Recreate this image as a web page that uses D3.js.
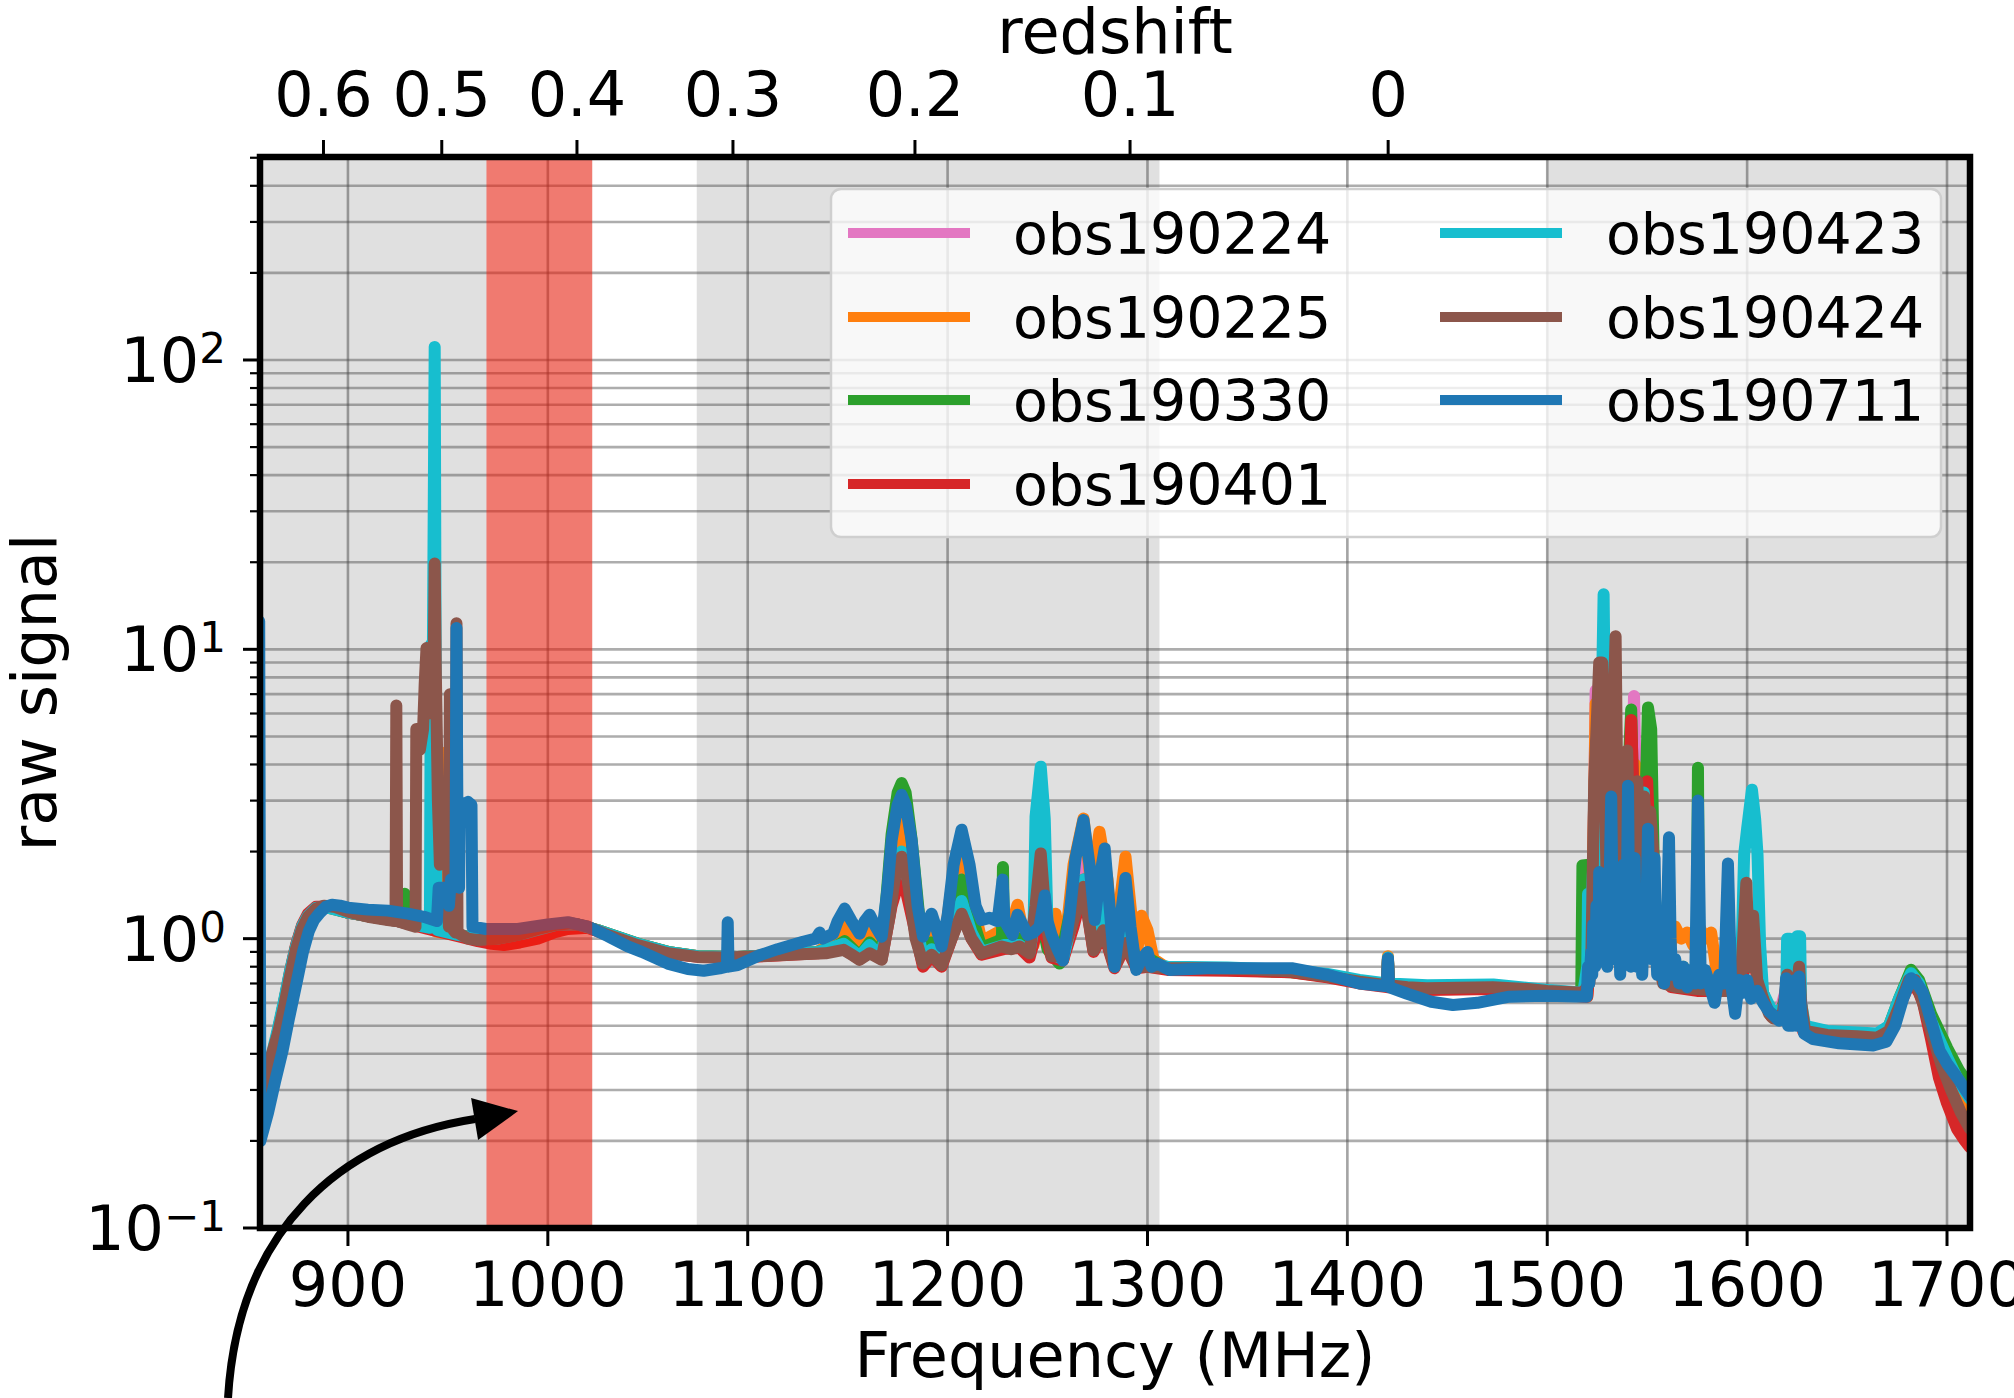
<!DOCTYPE html>
<html><head><meta charset="utf-8">
<script src="https://cdn.jsdelivr.net/npm/d3@7"></script>
<style>
body{margin:0;background:#fff}
svg{display:block}
text{font-family:"DejaVu Sans",sans-serif;fill:#000}
</style>
</head><body>
<svg id="chart" width="2014" height="1398"></svg>
<script>
// ---------------- DATA ----------------
const seriesNames  = ["obs190224","obs190225","obs190330","obs190401","obs190423","obs190424","obs190711"];
const seriesColors = ["#e377c2","#ff7f0e","#2ca02c","#d62728","#17becf","#8c564b","#1f77b4"];

const obs190224 = [[856,0.26],[859,0.31],[862,0.38],[865,0.47],[868,0.59],[871,0.75],[874,0.93],[877,1.09],[880,1.2],[884,1.28],[890,1.29],[900,1.23],[912,1.19],[925,1.15],[940,1.09],[955,1.03],[965,1.0],[975,1.0],[990,1.05],[1005,1.12],[1015,1.12],[1025,1.07],[1045,0.96],[1060,0.9],[1075,0.87],[1095,0.865],[1115,0.88],[1135,0.9],[1148,1.0],[1156,0.87],[1161,0.95],[1167,0.86],[1172,1.6],[1177,2.3],[1182,1.5],[1187.7,0.85],[1192,0.95],[1197,0.83],[1202,1.2],[1207,1.9],[1212,1.2],[1217,0.92],[1228,1.0],[1231,0.95],[1233.7,1.1],[1236,0.95],[1241,0.9],[1246.6,1.6],[1252,0.9],[1257.7,0.85],[1263,1.4],[1268,2.1],[1273,1.0],[1278,1.5],[1283.5,0.8],[1289,1.2],[1294.4,0.8],[1300,0.85],[1310,0.79],[1340,0.79],[1372,0.775],[1390,0.745],[1406,0.71],[1419.8,0.69],[1420.3,0.86],[1420.8,0.69],[1440,0.68],[1473,0.685],[1500,0.65],[1520,0.64],[1522,1.0],[1523.5,3],[1524.2,7.2],[1525,3],[1527,1.2],[1530,4],[1531.5,1.0],[1535,2.5],[1537,1.0],[1540,3.5],[1541.5,1.2],[1543.4,6.9],[1545,2],[1547,2.8],[1549,1.2],[1552,2.5],[1555,0.8],[1560,0.7],[1575,0.68],[1590,0.68],[1600,0.8],[1603,0.9],[1606,0.7],[1612,0.55],[1616,0.55],[1619,0.65],[1621,0.75],[1623,0.55],[1626,0.75],[1628,0.5],[1640,0.47],[1665,0.46],[1671,0.49],[1676,0.6],[1682,0.75],[1686,0.7],[1692,0.52],[1700,0.38],[1706,0.31],[1711.5,0.27]];

const obs190225 = [[856,0.25],[859,0.3],[862,0.37],[865,0.46],[868,0.58],[871,0.74],[874,0.92],[877,1.08],[880,1.2],[884,1.28],[890,1.29],[900,1.23],[912,1.19],[925,1.15],[940,1.09],[944,1.06],[946.4,1.05],[946.7,4.4],[947,1.05],[955,1.03],[965,1.0],[975,1.0],[990,1.05],[1005,1.12],[1015,1.12],[1025,1.07],[1045,0.96],[1060,0.9],[1075,0.87],[1095,0.865],[1115,0.88],[1135,0.9],[1143,0.98],[1148.5,1.15],[1152,1.0],[1156,0.9],[1161,1.1],[1167,0.9],[1172,1.8],[1177,2.5],[1182,1.6],[1187.7,0.9],[1192,1.1],[1197,0.85],[1202,1.5],[1207,2.2],[1212,1.4],[1217,0.98],[1225,1.05],[1230,1.0],[1235,1.31],[1239,0.95],[1243,0.95],[1246.6,1.3],[1250,1.0],[1254,1.22],[1258,0.85],[1263,1.8],[1268,2.6],[1272,1.5],[1276,2.34],[1280,1.6],[1283.5,0.85],[1286,1.3],[1289,1.92],[1292,1.2],[1294.4,0.85],[1297,1.2],[1300,1.07],[1303,0.85],[1310,0.79],[1340,0.785],[1372,0.77],[1390,0.74],[1406,0.705],[1419.8,0.685],[1420.3,0.87],[1420.8,0.685],[1440,0.67],[1473,0.67],[1500,0.645],[1520,0.63],[1522,1.0],[1523.5,3],[1524.2,6.5],[1525,2.5],[1527,1.2],[1530,3.5],[1531.5,1.0],[1535,2.2],[1537,1.0],[1540,3],[1541.5,1.2],[1544,4],[1545.5,1.5],[1548,2.5],[1550,1.2],[1552,2],[1555,0.9],[1560,0.85],[1564,1.1],[1567,1.0],[1570,1.05],[1573,0.95],[1576,1.1],[1579,1.0],[1582,1.05],[1585,0.75],[1592,0.7],[1600,0.85],[1603,0.95],[1606,0.7],[1612,0.55],[1616,0.54],[1619,0.6],[1621,0.7],[1623,0.55],[1626,0.7],[1628,0.5],[1640,0.465],[1665,0.455],[1671,0.48],[1676,0.6],[1682,0.75],[1686,0.7],[1692,0.5],[1700,0.36],[1706,0.29],[1711.5,0.25]];

const obs190330 = [[856,0.27],[859,0.32],[862,0.39],[865,0.48],[868,0.6],[871,0.76],[874,0.94],[877,1.1],[880,1.2],[884,1.28],[890,1.28],[900,1.23],[912,1.19],[925,1.16],[928,1.15],[928.4,1.43],[928.8,1.15],[940,1.09],[955,1.03],[965,1.0],[975,1.0],[990,1.05],[1005,1.12],[1015,1.12],[1025,1.07],[1045,0.96],[1060,0.9],[1075,0.87],[1095,0.865],[1115,0.88],[1135,0.9],[1143,0.93],[1148.5,0.98],[1152,0.93],[1156,0.87],[1161,0.97],[1167,0.87],[1172,2.3],[1175,3.2],[1177,3.45],[1179,3.2],[1182,2.2],[1187.7,0.88],[1192,0.97],[1197,0.84],[1202,1.2],[1207,1.6],[1212,1.2],[1217,0.93],[1225,0.98],[1227.2,1.0],[1227.7,1.77],[1228.2,1.0],[1232,0.95],[1236,1.0],[1241,0.88],[1246.6,1.2],[1250,0.92],[1256,0.82],[1262,1.3],[1268,1.6],[1273,1.0],[1278,1.4],[1283.5,0.82],[1289,1.2],[1294.4,0.82],[1300,0.86],[1310,0.785],[1340,0.78],[1372,0.765],[1390,0.74],[1406,0.705],[1419.8,0.685],[1420.3,0.85],[1420.8,0.685],[1440,0.675],[1473,0.68],[1500,0.65],[1517,0.64],[1517.6,1.79],[1521,1.8],[1521.6,0.9],[1524,2.5],[1526,1.3],[1528,4],[1530,1.3],[1532.4,7.2],[1534,2],[1536,3],[1538,1.3],[1540,3],[1542,6.2],[1543.5,2],[1546,3],[1548,1.5],[1550.4,6.3],[1552,5.3],[1553.5,1.5],[1556,0.85],[1562,0.72],[1568,0.8],[1572,0.72],[1574.8,0.75],[1575.4,3.9],[1576,0.75],[1585,0.7],[1592,0.68],[1600,0.8],[1603,0.9],[1606,0.7],[1612,0.55],[1616,0.54],[1619,0.62],[1621,0.7],[1623,0.55],[1626,0.7],[1628,0.5],[1640,0.47],[1665,0.46],[1671,0.5],[1676,0.62],[1682,0.78],[1686,0.72],[1692,0.55],[1700,0.42],[1706,0.35],[1711.5,0.31]];

const obs190401 = [[856,0.26],[859,0.31],[862,0.38],[865,0.48],[868,0.6],[871,0.77],[874,0.95],[877,1.11],[880,1.22],[884,1.29],[890,1.29],[900,1.23],[912,1.19],[925,1.15],[940,1.08],[955,1.02],[965,0.98],[972,0.96],[978,0.95],[986,0.97],[995,1.0],[1003,1.05],[1010,1.08],[1020,1.09],[1030,1.03],[1045,0.95],[1060,0.89],[1075,0.865],[1095,0.86],[1115,0.875],[1135,0.89],[1148,0.92],[1156,0.85],[1161,0.9],[1167,0.85],[1172,1.3],[1177,1.7],[1182,1.2],[1187.7,0.8],[1192,0.87],[1197,0.8],[1202,1.0],[1207,1.25],[1212,1.0],[1217,0.88],[1228,0.92],[1236,0.93],[1241,0.86],[1246.6,1.2],[1252,0.86],[1257.7,0.84],[1263,1.1],[1268,1.5],[1273,0.9],[1278,1.05],[1283.5,0.79],[1289,0.95],[1294.4,0.79],[1300,0.8],[1310,0.78],[1340,0.775],[1372,0.765],[1390,0.735],[1406,0.7],[1419.8,0.68],[1420.3,0.84],[1420.8,0.68],[1440,0.665],[1473,0.67],[1500,0.645],[1520,0.63],[1522,0.9],[1524,2.5],[1526,1.2],[1528,3.5],[1530,1.2],[1532,4],[1534,1.5],[1537,3],[1539,1.2],[1542,5.7],[1544,2],[1546,3],[1548,1.3],[1550,3.5],[1552,1.5],[1555,0.8],[1562,0.68],[1575,0.66],[1590,0.66],[1598,0.75],[1600,1.0],[1601,1.29],[1602.5,0.9],[1606,0.68],[1612,0.54],[1616,0.53],[1619,0.6],[1621,0.68],[1623,0.53],[1626,0.68],[1628,0.48],[1640,0.46],[1665,0.45],[1671,0.47],[1676,0.58],[1682,0.72],[1686,0.65],[1688,0.6],[1692,0.45],[1696,0.33],[1700,0.27],[1705,0.22],[1709,0.2],[1711.5,0.19]];

const obs190423 = [[856,0.3],[859,0.34],[862,0.4],[865,0.49],[868,0.61],[871,0.77],[874,0.94],[877,1.1],[880,1.2],[884,1.28],[890,1.28],[900,1.23],[912,1.19],[925,1.15],[938,1.1],[941,1.09],[941.5,10.4],[942.5,10],[943.4,111],[944.2,1.5],[945,1.07],[955,1.03],[965,1.0],[975,1.0],[990,1.05],[1005,1.12],[1015,1.12],[1025,1.07],[1045,0.96],[1060,0.9],[1075,0.87],[1095,0.865],[1115,0.88],[1135,0.9],[1148,0.96],[1156,0.87],[1161,0.95],[1167,0.86],[1172,1.5],[1177,2.0],[1182,1.4],[1187.7,0.85],[1192,0.92],[1197,0.83],[1202,1.1],[1207,1.35],[1212,1.05],[1217,0.9],[1228,0.95],[1236,0.95],[1241,0.9],[1243,1.1],[1244,2.64],[1246.6,3.93],[1248.6,2.6],[1250,1.1],[1253,0.88],[1257.7,0.85],[1263,1.2],[1268,1.6],[1273,0.95],[1278,1.3],[1283.5,0.8],[1289,1.15],[1294.4,0.8],[1300,0.82],[1310,0.8],[1340,0.795],[1372,0.78],[1390,0.755],[1406,0.72],[1419.8,0.7],[1420.3,0.86],[1420.8,0.7],[1440,0.69],[1473,0.695],[1500,0.665],[1518,0.65],[1520,0.8],[1520.4,1.43],[1521,0.9],[1524,2.5],[1526,1.2],[1527.5,8],[1528.2,15.5],[1529,5],[1530,1.2],[1533,3],[1535,1.2],[1538,2.5],[1540,1.2],[1543,3],[1545,1.2],[1548.3,3.2],[1550,1.2],[1553,2],[1555,0.85],[1562,0.72],[1575,0.7],[1590,0.7],[1597,0.8],[1598.5,1.95],[1600,2.4],[1602.4,3.27],[1604,2.6],[1605.2,1.95],[1606.5,0.95],[1608,0.65],[1612,0.57],[1616,0.56],[1619.5,0.6],[1620,1.0],[1621.5,1.0],[1622,0.6],[1624.5,0.6],[1625,1.02],[1626.5,1.02],[1627,0.6],[1629,0.5],[1640,0.48],[1665,0.47],[1671,0.5],[1676,0.62],[1682,0.76],[1686,0.7],[1692,0.52],[1700,0.39],[1706,0.32],[1711.5,0.28]];

const obs190424 = [[856,0.29],[859,0.33],[862,0.4],[865,0.47],[868,0.58],[871,0.74],[874,0.92],[877,1.08],[880,1.19],[884,1.27],[888,1.3],[893,1.29],[900,1.24],[910,1.19],[920,1.16],[923.8,1.15],[924.2,6.4],[924.6,1.15],[930,1.12],[933.8,1.1],[934.2,5.3],[936,4.5],[937.6,5.3],[938.4,7.6],[939.3,10.1],[940.5,6],[941.5,9],[942.8,8],[943.4,19.8],[944,8],[945,3],[946,1.8],[946.8,2.7],[948.5,2.4],[950,2.7],[950.5,1.1],[951,7.0],[951.5,1.1],[953.8,1.05],[954.3,12.3],[954.8,1.05],[960,1.0],[965,0.99],[975,1.0],[985,1.03],[995,1.08],[1005,1.12],[1012,1.13],[1020,1.1],[1030,1.03],[1045,0.95],[1060,0.89],[1075,0.865],[1090,0.86],[1105,0.87],[1120,0.88],[1139,0.89],[1148,0.915],[1152,0.88],[1156,0.845],[1161,0.89],[1167,0.845],[1171,1.2],[1174,1.7],[1177,1.92],[1180,1.6],[1184,1.0],[1187.7,0.82],[1192,0.88],[1197,0.81],[1202,1.0],[1207,1.22],[1212,1.0],[1217,0.89],[1227,0.94],[1232,0.92],[1236,0.94],[1241,0.89],[1244,1.3],[1246.6,1.97],[1249,1.2],[1252,0.87],[1257,0.87],[1262,1.1],[1268,1.51],[1273,0.91],[1278,1.07],[1283.5,0.8],[1289,0.965],[1294.4,0.8],[1300,0.8],[1310,0.79],[1330,0.79],[1350,0.785],[1372.8,0.77],[1390,0.74],[1406,0.71],[1419.8,0.69],[1420.3,0.85],[1420.8,0.69],[1430,0.68],[1439.5,0.674],[1455,0.676],[1472.8,0.68],[1490,0.67],[1500,0.66],[1518,0.65],[1521,0.7],[1522,0.8],[1523.5,3.5],[1524.5,5],[1526,9],[1527.5,9],[1529,3],[1530,1.2],[1531,2],[1534.2,11.1],[1535.5,1.5],[1538,4.0],[1540,4.47],[1541.5,1.5],[1543,2.5],[1545,3.5],[1547,1.6],[1548.5,3.1],[1550,1.2],[1551.5,2.75],[1553,2.0],[1555,0.85],[1558,0.7],[1565,0.68],[1575,0.67],[1585,0.66],[1592,0.66],[1595,0.7],[1597,0.75],[1599.6,1.56],[1601,0.8],[1603,1.2],[1605,0.72],[1608,0.62],[1611,0.55],[1613,0.53],[1616,0.53],[1618,0.56],[1620,0.75],[1621,0.55],[1624,0.55],[1626,0.8],[1627,0.6],[1629,0.48],[1640,0.465],[1655,0.46],[1665,0.455],[1671,0.48],[1676,0.58],[1681,0.72],[1684,0.72],[1688,0.6],[1692,0.48],[1697,0.37],[1702,0.3],[1707,0.25],[1711.5,0.22]];

const obs190711 = [[855.6,12.5],[856.2,0.2],[860,0.25],[863.5,0.32],[867.3,0.41],[870.5,0.53],[874.4,0.71],[877.5,0.9],[880.4,1.06],[883,1.16],[886,1.23],[889,1.29],[892,1.31],[896,1.3],[900,1.28],[910,1.26],[920,1.25],[930,1.22],[938,1.19],[944.5,1.15],[945.4,1.5],[949.5,1.5],[950.5,1.3],[951.5,1.6],[952.8,1.5],[953.8,1.6],[954.3,11.85],[954.9,1.6],[955.6,1.5],[956,2.97],[958,2.8],[960,2.97],[961.8,2.9],[962.3,1.1],[969,1.08],[985,1.08],[1000,1.12],[1010,1.14],[1020,1.1],[1030,1.02],[1040,0.94],[1047,0.9],[1060,0.82],[1070,0.785],[1078,0.775],[1086,0.79],[1089.6,0.8],[1090,1.14],[1090.4,0.8],[1095,0.81],[1106,0.876],[1115,0.92],[1127.7,0.976],[1134,1.0],[1136,1.05],[1137.5,1.0],[1142.7,1.04],[1145,1.15],[1148.5,1.27],[1152,1.15],[1156,1.04],[1158.5,1.15],[1161,1.21],[1164,1.1],[1167,1.016],[1170,1.5],[1172,2.19],[1175,2.9],[1177,3.14],[1179,2.9],[1182,2.19],[1185,1.3],[1187.7,1.016],[1190,1.15],[1192,1.22],[1194.5,1.08],[1197,0.94],[1200,1.2],[1203,1.8],[1207,2.38],[1211,1.8],[1214,1.3],[1217,1.16],[1221,1.18],[1225,1.15],[1227.5,1.6],[1228.5,1.15],[1232.5,1.03],[1235,1.21],[1238,1.1],[1240,1.03],[1243,1.05],[1246,1.1],[1248.6,1.41],[1250,1.15],[1252,1.03],[1255,0.92],[1257.7,0.84],[1261,1.2],[1264,1.9],[1268,2.57],[1271,1.8],[1273.6,1.16],[1276,1.6],[1278.6,2.05],[1281,1.3],[1283.5,0.8],[1286,1.1],[1289,1.62],[1291.5,1.1],[1294.4,0.78],[1297,0.85],[1300,0.9],[1302,0.8],[1305,0.82],[1311,0.78],[1330,0.79],[1350,0.79],[1372.8,0.79],[1390,0.75],[1406,0.7],[1419.8,0.685],[1420.3,0.855],[1420.8,0.68],[1430,0.645],[1442,0.605],[1452.8,0.59],[1465,0.6],[1481,0.63],[1500,0.635],[1519.8,0.63],[1520.4,0.8],[1521,0.7],[1522,0.9],[1522.5,0.75],[1523,1.12],[1523.6,0.85],[1524,0.8],[1524.6,1.3],[1525,1.0],[1525.6,0.85],[1526,1.7],[1526.5,1.0],[1527,0.9],[1527.7,1.4],[1528.5,1.2],[1529.2,0.9],[1530,0.8],[1531,1.3],[1532,3.1],[1532.8,1.1],[1533.5,0.85],[1534.2,1.4],[1535,1.0],[1535.8,1.2],[1536.5,0.75],[1537.2,1.1],[1538,1.8],[1538.5,1.0],[1539,0.9],[1539.8,1.3],[1540.4,3.38],[1541,1.1],[1541.8,0.8],[1542.8,1.3],[1543.7,1.9],[1544.3,1.0],[1545,0.8],[1546,1.45],[1546.8,0.9],[1547.5,0.75],[1548.5,1.2],[1549.5,1.1],[1550.4,2.4],[1551.2,1.2],[1552,0.85],[1552.8,1.3],[1553.7,1.9],[1554.3,1.0],[1555,0.75],[1556,0.9],[1557,1.0],[1558.5,0.7],[1559.8,1.1],[1560.9,2.24],[1561.7,1.0],[1562.5,0.75],[1564,0.85],[1566,0.7],[1568,0.8],[1570,0.68],[1572,0.78],[1574,0.7],[1575.4,3.0],[1576.8,0.7],[1579,0.78],[1581,0.7],[1583.7,0.6],[1586,0.75],[1588.5,0.7],[1590.4,1.82],[1592,0.7],[1594,0.55],[1596,0.72],[1598,0.65],[1600,0.72],[1602,0.62],[1605,0.66],[1608,0.6],[1611,0.56],[1613,0.545],[1616,0.52],[1618.5,0.55],[1619.5,0.73],[1620.5,0.5],[1623,0.5],[1624,0.72],[1625,0.5],[1626,0.74],[1627,0.55],[1628.5,0.47],[1633,0.45],[1646,0.435],[1663,0.427],[1669.6,0.44],[1674,0.5],[1678,0.62],[1682,0.73],[1685,0.7],[1688,0.65],[1692,0.52],[1696.3,0.41],[1700,0.37],[1704.6,0.335],[1708,0.31],[1711.5,0.285]];

const freqTicks      = [900,1000,1100,1200,1300,1400,1500,1600,1700];
const redshiftTicks  = [0.6,0.5,0.4,0.3,0.2,0.1,0];
const redshiftLabels = ["0.6","0.5","0.4","0.3","0.2","0.1","0"];
const yMajorTicks    = [0.1,1,10,100];
const yMajorExps     = ["\u22121","0","1","2"];
const grayBands      = [[840,1022.2],[1074.5,1306],[1500,1720]];
const redBand        = [969.3,1022.2];
const HI_REST_MHZ    = 1420.405;
// annotation arrow, in data units (MHz, raw signal)
const arrowCurve = [[840.0,0.02585],[845.0,0.0984],[896.0,0.2014],[963.6,0.238]];
const arrowHead  = [[985.1,0.2535],[961.6,0.2812],[965.1,0.2014]];

const allSeries = [obs190224,obs190225,obs190330,obs190401,obs190423,obs190424,obs190711];

// ---------------- LAYOUT ----------------
const P = {left:260, right:1970, top:157, bottom:1228};
const svg = d3.select("#chart");
const x = d3.scaleLinear().domain([856,1711.5]).range([P.left,P.right]);
const y = d3.scaleLog().domain([0.1,503]).range([P.bottom,P.top]);
const zx = z => x(HI_REST_MHZ/(1+z));

svg.append("defs").append("clipPath").attr("id","plotclip")
  .append("rect").attr("x",P.left).attr("y",P.top)
  .attr("width",P.right-P.left).attr("height",P.bottom-P.top);

const plot = svg.append("g").attr("clip-path","url(#plotclip)");

// gray shaded bands
plot.selectAll("rect.band").data(grayBands).join("rect")
  .attr("class","band")
  .attr("x",d=>x(d[0])).attr("width",d=>x(d[1])-x(d[0]))
  .attr("y",P.top).attr("height",P.bottom-P.top)
  .attr("fill","#e0e0e0");

// grid
const yGrid = y.ticks().filter(v=>v>=0.1 && v<=503);
plot.selectAll("line.hg").data(yGrid).join("line")
  .attr("x1",P.left).attr("x2",P.right)
  .attr("y1",d=>y(d)).attr("y2",d=>y(d))
  .attr("stroke","#4a4a4a").attr("stroke-opacity",0.45).attr("stroke-width",2.6);
plot.selectAll("line.vg").data(freqTicks).join("line")
  .attr("y1",P.top).attr("y2",P.bottom)
  .attr("x1",d=>x(d)).attr("x2",d=>x(d))
  .attr("stroke","#4a4a4a").attr("stroke-opacity",0.5).attr("stroke-width",2.6);

// series
const line = d3.line().x(d=>x(d[0])).y(d=>y(d[1]));
plot.selectAll("path.s").data(allSeries).join("path")
  .attr("d",line)
  .attr("fill","none")
  .attr("stroke",(d,i)=>seriesColors[i])
  .attr("stroke-width",12)
  .attr("stroke-linejoin","round")
  .attr("stroke-linecap","round");

// red band on top
plot.append("rect")
  .attr("x",x(redBand[0])).attr("width",x(redBand[1])-x(redBand[0]))
  .attr("y",P.top).attr("height",P.bottom-P.top)
  .attr("fill","rgb(255,20,0)").attr("fill-opacity",0.5);

// frame
svg.append("rect").attr("x",P.left).attr("y",P.top)
  .attr("width",P.right-P.left).attr("height",P.bottom-P.top)
  .attr("fill","none").attr("stroke","#000").attr("stroke-width",6.5);

// bottom ticks
const fs = 62;
svg.selectAll("line.bt").data(freqTicks).join("line")
  .attr("x1",d=>x(d)).attr("x2",d=>x(d)).attr("y1",P.bottom).attr("y2",P.bottom+18)
  .attr("stroke","#000").attr("stroke-width",3);
svg.selectAll("text.bt").data(freqTicks).join("text")
  .attr("x",d=>x(d)).attr("y",1306).attr("text-anchor","middle")
  .attr("font-size",fs).text(d=>d);

// top (redshift) ticks
svg.selectAll("line.tt").data(redshiftTicks).join("line")
  .attr("x1",d=>zx(d)).attr("x2",d=>zx(d)).attr("y1",P.top).attr("y2",P.top-17)
  .attr("stroke","#000").attr("stroke-width",3);
svg.selectAll("text.tt").data(redshiftTicks).join("text")
  .attr("x",d=>zx(d)).attr("y",116).attr("text-anchor","middle")
  .attr("font-size",fs).text((d,i)=>redshiftLabels[i]);

// left ticks (log)
svg.selectAll("line.lm").data(yGrid).join("line")
  .attr("x1",P.left).attr("x2",d=>P.left-(yMajorTicks.includes(d)?17:10))
  .attr("y1",d=>y(d)).attr("y2",d=>y(d))
  .attr("stroke","#000").attr("stroke-width",d=>yMajorTicks.includes(d)?3:2.2);
const yl = svg.selectAll("text.yl").data(yMajorTicks).join("text")
  .attr("x",226).attr("y",d=>y(d)+22).attr("text-anchor","end").attr("font-size",fs);
yl.append("tspan").text("10");
yl.append("tspan").attr("dy",-19).attr("font-size",42).text((d,i)=>yMajorExps[i]);

// axis labels
svg.append("text").attr("x",(P.left+P.right)/2).attr("y",1377)
  .attr("text-anchor","middle").attr("font-size",fs).text("Frequency (MHz)");
svg.append("text").attr("x",(P.left+P.right)/2).attr("y",53)
  .attr("text-anchor","middle").attr("font-size",fs).text("redshift");
svg.append("text").attr("transform",`translate(56,${(P.top+P.bottom)/2}) rotate(-90)`)
  .attr("text-anchor","middle").attr("font-size",fs).text("raw signal");

// legend
const L = {x:831,y:189,w:1110,h:348};
const lg = svg.append("g");
lg.append("rect").attr("x",L.x).attr("y",L.y).attr("width",L.w).attr("height",L.h)
  .attr("rx",10).attr("ry",10)
  .attr("fill","#fff").attr("fill-opacity",0.78)
  .attr("stroke","#cfcfcf").attr("stroke-width",2.5);
const colX = [848,1440], textX=[1013,1606], rowY=[233,317,400,484];
seriesNames.forEach((nm,i)=>{
  const c = i<4?0:1, r = i<4?i:i-4;
  lg.append("line").attr("x1",colX[c]).attr("x2",colX[c]+122)
    .attr("y1",rowY[r]).attr("y2",rowY[r])
    .attr("stroke",seriesColors[i]).attr("stroke-width",10);
  lg.append("text").attr("x",textX[c]).attr("y",rowY[r]+21)
    .attr("font-size",57).text(nm);
});

// annotation arrow
const ac = arrowCurve.map(d=>[x(d[0]),y(d[1])]);
svg.append("path")
  .attr("d",`M${ac[0]}C${ac[1]} ${ac[2]} ${ac[3]}`)
  .attr("fill","none").attr("stroke","#000").attr("stroke-width",8);
svg.append("path")
  .attr("d","M"+arrowHead.map(d=>[x(d[0]),y(d[1])].join(",")).join("L")+"Z")
  .attr("fill","#000");
</script>
</body></html>
